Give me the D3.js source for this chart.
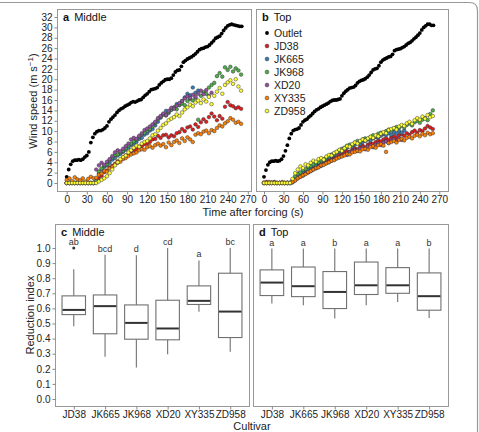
<!DOCTYPE html>
<meta charset="utf-8">
<script src="https://cdn.jsdelivr.net/npm/d3@7"></script>
<style>
body { margin: 0; background: #fff; }
svg { display: block; font-family: "Liberation Sans", Arial, sans-serif; }
.frame { fill: none; stroke: #999; stroke-width: 1.2px; }
.border { fill: none; stroke: #999; stroke-width: 1px; }
.axis text { font-size: 10px; fill: #222; }
.axis line { stroke: #888; }
.axis path { display: none; }
.title { font-size: 11px; fill: #111; }
.lab { font-size: 11px; fill: #222; }
.legend text { font-size: 10.5px; fill: #222; }
.box { fill: #fff; stroke: #707070; stroke-width: 1.1px; }
.whisker { stroke: #707070; stroke-width: 1.1px; }
.median { stroke: #333; stroke-width: 2px; }
.letter { font-size: 9px; fill: #333; text-anchor: middle; }
</style>
<svg width="479" height="432"></svg>
<script>

// ---- time series (outlet every 3 s, cultivars every 4 s, from t = 0) ----
var outletStep = 3, cultivarStep = 4;

var outletMid = [1.2,2.6,3.6,4.2,4.4,4.4,4.5,4.4,4.6,5.0,
  5.3,6.0,7.8,8.8,9.5,9.9,10.1,10.1,10.3,10.6,
  11.0,11.8,12.3,12.7,13.1,13.6,14.0,14.3,14.5,14.8,
  15.0,15.2,15.5,15.7,15.6,15.8,16.0,16.1,16.5,16.9,
  17.2,17.6,18.0,18.1,18.2,18.4,18.9,19.3,19.6,19.9,
  20.0,20.0,20.2,20.8,21.4,21.7,21.8,22.5,23.3,23.6,
  23.9,24.1,24.3,24.6,24.9,25.3,25.7,25.9,26.0,26.2,
  26.3,26.6,27.0,27.4,27.9,28.1,28.3,28.8,29.4,29.9,
  30.3,30.5,30.6,30.5,30.4,30.3,30.2,30.2];

var outletTop = [1.2,2.5,3.5,4.0,4.2,4.2,4.3,4.2,4.3,4.6,
  5.2,6.2,7.3,8.6,9.5,10.1,10.3,10.4,10.6,11.2,
  11.8,12.1,12.3,12.7,13.0,13.4,13.8,14.1,14.3,14.6,
  14.8,15.0,15.2,15.4,15.7,15.9,16.0,16.0,16.1,16.2,
  16.8,17.3,17.7,18.0,18.3,18.4,18.5,18.8,19.3,19.6,
  19.8,19.9,20.1,20.4,20.8,21.3,21.8,22.0,22.1,22.6,
  23.3,23.7,23.9,24.1,24.3,24.4,24.8,25.5,25.7,25.8,
  25.9,26.1,26.3,26.6,26.9,27.1,27.4,27.8,28.1,28.5,
  28.9,29.5,30.0,30.3,30.6,30.6,30.4,30.4];

// Middle
var midJD38 = [0,0,0,0,0,0,0,0,0,0,0,
  0.1,0.9,1.4,2.1,2.4,3.0,3.3,3.7,4.2,4.4,4.9,5.3,5.5,6.1,6.3,6.5,7.0,7.1,7.5,
  7.6,7.9,8.4,8.5,9.1,8.7,9.2,9.3,8.8,9.2,9.0,9.6,9.8,10.4,10.0,10.7,10.9,10.3,11.3,10.8,
  11.7,12.3,11.8,12.7,13.4,12.8,12.1,12.9,12.4,14.7,15.6,15.0,14.8,14.4,14.6,14.3];
var midJK665 = [0,0,0,0,0,0,0,0,0,0,0,
  0.3,1.8,2.6,3.1,3.4,3.9,4.5,4.8,5.3,5.6,6.0,6.4,6.8,7.3,7.6,7.9,8.5,8.7,9.3,
  9.6,10.1,10.4,11.1,11.8,12.6,13.2,13.9,13.5,14.1,14.6,15.2,15.0,15.8,16.5,17.2,16.9,18.4,17.4,17.8];
var midJK968 = [0,0,0,0,0,0,0,0,0,0,0,
  0.4,2.2,2.8,3.3,3.6,4.4,4.9,5.4,5.5,5.9,6.2,6.7,7.2,7.6,8.0,8.3,8.9,9.4,9.7,
  10.1,10.4,10.9,11.6,12.3,12.8,13.2,13.0,13.7,14.2,14.5,14.2,15.1,15.3,15.0,15.8,16.2,15.9,16.4,12.2,
  16.8,17.5,17.2,18.4,18.9,19.3,20.6,21.2,20.5,22.3,21.8,22.4,21.5,22.1,21.7,20.9];
var midXD20 = [0,0,0,0,0,0,0,0,0,0,0,
  2.6,3.4,3.9,3.5,4.1,4.6,5.2,5.9,6.3,6.1,6.6,7.1,7.6,8.4,8.7,8.5,9.1,9.6,10.2,
  10.5,10.9,11.3,11.8,12.5,12.9,13.4,13.1,13.9,14.5,14.3,14.9,15.4,15.8,16.3,16.7,16.4,17.0,16.6,17.2,
  17.8,17.1,17.9,16.8,17.4];
var midXY335 = [0.6,0.9,0.4,1.1,0.7,0.5,0.9,0.3,0.8,1.2,0.9,
  1.0,1.6,1.8,2.3,2.2,2.8,3.1,3.6,3.9,4.1,4.6,4.8,5.2,5.5,5.7,5.9,6.3,6.5,6.4,
  6.9,7.1,6.8,7.3,7.6,7.2,7.5,6.9,7.8,7.3,7.9,8.2,7.7,8.6,8.1,8.8,8.4,7.9,9.3,9.6,
  9.4,9.9,10.1,9.6,10.2,10.0,10.6,11.1,10.9,11.5,11.9,12.5,12.2,11.6,11.8,11.4];
var midZD958 = [0,0,0,0,0,0,0,0,0,0,0,
  0.0,0.3,0.6,0.9,1.3,1.9,2.6,3.4,4.0,4.6,5.0,5.3,5.9,6.3,6.8,7.2,7.0,7.6,7.9,
  8.1,8.6,9.2,9.4,10.1,10.6,11.2,11.5,12.1,12.4,12.7,13.2,12.9,13.6,14.2,14.6,15.1,14.8,15.5,15.9,
  15.4,16.1,15.7,16.6,15.2,16.8,17.6,18.3,17.2,18.9,19.4,19.8,19.1,20.0,18.6,17.8];

// Top
var topJD38 = [0,0.2,0,0.1,0.2,0,0,0.1,0,0,0,
  0.3,0.6,1.1,1.3,1.6,1.9,2.3,2.4,2.9,3.1,3.4,3.6,3.9,4.1,4.4,4.5,4.9,5.0,5.4,
  5.5,5.8,6.1,6.0,6.4,6.7,6.5,7.0,7.2,6.9,7.4,7.7,7.5,7.9,8.2,8.0,8.4,8.6,8.3,8.8,
  9.0,8.7,9.2,9.4,9.1,9.6,9.3,9.8,10.1,9.7,10.2,10.0,10.5,11.0,10.7,10.4];
var topJK665 = [0,0,0,0,0,0,0,0,0,0,0,
  0.4,1.0,1.4,1.7,2.1,2.4,2.6,3.0,3.3,3.5,3.9,4.1,4.4,4.7,4.9,5.2,5.4,5.8,6.0,
  6.3,6.5,6.8,7.1,7.0,7.4,7.7,7.5,7.9,8.1,8.4,8.2,8.6,8.9,8.7,9.1,9.4,9.2,9.6,9.3,
  9.8,9.5,10.0,9.7,10.1];
var topJK968 = [0,0,0,0,0,0,0,0,0,0,0,
  0.6,1.3,1.8,2.0,2.5,2.7,3.1,3.3,3.6,3.9,4.0,4.4,4.6,4.9,5.1,5.5,5.7,6.0,6.3,
  6.6,6.8,7.2,7.4,7.3,7.8,8.1,7.9,8.4,8.6,8.5,8.9,9.2,9.0,9.5,9.7,9.6,10.0,10.3,10.1,
  10.5,10.8,10.6,11.0,10.7,11.2,11.5,11.1,11.7,12.0,11.6,12.2,12.5,12.1,13.3,14.0];
var topXD20 = [0,0,0,0,0,0,0,0,0,0,0,
  0.1,0.5,0.9,1.2,1.4,1.8,2.0,2.3,2.6,2.8,3.1,3.3,3.6,3.8,4.0,4.3,4.5,4.8,5.0,
  5.2,5.5,5.4,5.9,6.1,6.3,6.2,6.6,6.8,6.5,7.0,7.2,6.9,7.4,7.6,7.3,7.8,8.0,7.7,8.2,
  8.4,8.1,8.6,8.3];
var topXY335 = [0.1,0,0.2,0,0.1,0,0,0.2,0,0.1,0,
  0.2,0.5,0.9,1.2,1.5,1.7,2.1,2.3,2.6,2.9,3.0,3.4,3.5,3.8,4.0,4.3,4.4,4.7,4.9,
  5.1,5.3,5.6,5.5,5.9,6.0,6.2,6.1,6.5,6.6,6.4,6.9,7.1,6.8,7.3,7.5,7.2,6.0,7.7,7.9,
  8.1,7.8,8.3,8.5,8.2,8.7,8.9,8.6,9.1,9.3,9.0,9.5,9.2,9.7,9.4,9.6];
var topZD958 = [0,0,0,0,0,0,0,0,0,0,0,
  0.8,1.9,2.6,3.2,2.9,3.6,3.4,3.9,4.3,4.1,4.6,4.8,4.5,5.1,5.4,5.3,5.8,6.0,6.4,
  6.2,6.7,7.1,7.0,7.5,7.8,7.6,8.1,8.4,8.2,8.6,8.9,8.7,9.2,9.0,9.5,9.8,9.6,10.2,10.4,
  10.6,10.3,10.9,11.2,11.0,11.5,11.8,11.4,12.1,12.5,12.2,12.8,12.4,13.1,12.7,12.9];

var cultivars = ["JD38", "JK665", "JK968", "XD20", "XY335", "ZD958"];
var colors = ["#E41A1C", "#377EB8", "#4DAF4A", "#984EA3", "#FF7F00", "#FFFF33"];

// ---- reduction index box stats ----
var midLow  = [0.482, 0.280, 0.209, 0.297, 0.577, 0.313];
var midQ1   = [0.559, 0.432, 0.396, 0.392, 0.626, 0.407];
var midMed  = [0.590, 0.615, 0.504, 0.467, 0.650, 0.579];
var midQ3   = [0.683, 0.689, 0.623, 0.654, 0.749, 0.833];
var midHigh = [0.859, 0.956, 0.952, 1.000, 0.918, 1.000];
var midOutliers = [[1.0], [], [], [], [], []];
var midLetters = ["ab", "bcd", "d", "cd", "a", "bc"];

var topLow  = [0.632, 0.621, 0.533, 0.621, 0.643, 0.537];
var topQ1   = [0.685, 0.678, 0.599, 0.692, 0.700, 0.588];
var topMed  = [0.771, 0.747, 0.709, 0.753, 0.753, 0.681];
var topQ3   = [0.855, 0.874, 0.844, 0.907, 0.870, 0.835];
var topHigh = [0.996, 0.996, 0.996, 0.996, 0.996, 0.996];
var topOutliers = [[], [], [], [], [], []];
var topLetters = ["a", "a", "b", "a", "a", "b"];

var speedTicks = d3.range(0, 33, 2);
var timeTicks = d3.range(0, 271, 30);
var indexTicks = d3.range(0, 11).map(function(d) { return d / 10; });

var svg = d3.select("svg");

// figure frame (top + right with rounded corner)
svg.append("path").attr("class", "frame")
    .attr("d", "M0,2.5H469.5Q477.5,2.5 477.5,10.5V432");

//------------------------------------------------------------------
function scatterPanel(opt) {
  var x = d3.scaleLinear().domain([0, 270]).range(opt.xr);
  var y = d3.scaleLinear().domain([0, 32]).range([183, 17]);
  var g = svg.append("g");

  g.append("rect").attr("class", "border")
      .attr("x", opt.left + 0.5).attr("y", 9.5)
      .attr("width", opt.right - opt.left).attr("height", 182);

  g.append("g").attr("class", "axis")
      .attr("transform", "translate(0," + 191.5 + ")")
      .call(d3.axisBottom(x).tickValues(timeTicks).tickSize(3).tickPadding(1));

  if (opt.yaxis) {
    g.append("g").attr("class", "axis")
        .attr("transform", "translate(" + (opt.left + 0.5) + ",0)")
        .call(d3.axisLeft(y).tickValues(speedTicks).tickSize(3).tickPadding(2));
  }

  // outlet
  g.append("g").selectAll("circle")
      .data(opt.outlet)
    .enter().append("circle")
      .attr("cx", function(d, i) { return x(i * outletStep); })
      .attr("cy", function(d) { return y(d); })
      .attr("r", 1.9)
      .attr("fill", "#000");

  opt.series.forEach(function(s, k) {
    g.append("g").selectAll("circle")
        .data(s)
      .enter().append("circle")
        .attr("cx", function(d, i) { return x(i * cultivarStep); })
        .attr("cy", function(d) { return y(d); })
        .attr("r", 1.8)
        .attr("fill", colors[k])
        .attr("stroke", "#333")
        .attr("stroke-width", 0.5);
  });

  var t = g.append("text").attr("class", "title")
      .attr("x", opt.left + 6).attr("y", 21);
  t.append("tspan").attr("font-weight", "bold").text(opt.letter);
  t.append("tspan").attr("dx", 5).text(opt.name);
  return g;
}

var gA = scatterPanel({left: 57, right: 251, xr: [66.7, 247.8], yaxis: true,
  outlet: outletMid, letter: "a", name: "Middle",
  series: [midJD38, midJK665, midJK968, midXD20, midXY335, midZD958]});

var gB = scatterPanel({left: 256, right: 448, xr: [264, 439.3], yaxis: false,
  outlet: outletTop, letter: "b", name: "Top",
  series: [topJD38, topJK665, topJK968, topXD20, topXY335, topZD958]});

// legend
var legNames = ["Outlet"].concat(cultivars);
var legColors = ["#000"].concat(colors);
var leg = gB.append("g").attr("class", "legend");
legNames.forEach(function(n, i) {
  var yy = 33 + i * 13;
  leg.append("circle").attr("cx", 267).attr("cy", yy).attr("r", 1.9)
      .attr("fill", legColors[i])
      .attr("stroke", i ? "#333" : "none").attr("stroke-width", 0.5);
  leg.append("text").attr("x", 274).attr("y", yy + 3.8).text(n);
});

svg.append("text").attr("class", "lab")
    .attr("transform", "translate(37,101) rotate(-90)")
    .attr("text-anchor", "middle")
    .call(function(t) {
      t.append("tspan").text("Wind speed (m s");
      t.append("tspan").attr("baseline-shift", "super").attr("font-size", "8px").text("\u22121");
      t.append("tspan").text(")");
    });

svg.append("text").attr("class", "lab")
    .attr("x", 253).attr("y", 215.5).attr("text-anchor", "middle")
    .text("Time after forcing (s)");

//------------------------------------------------------------------
function boxPanel(opt) {
  var x = d3.scalePoint().domain(cultivars).range([opt.left, opt.right]).padding(0.6);
  var y = d3.scaleLinear().domain([0, 1]).range([399, 248]);
  var bw = x.step() * 0.75;
  var g = svg.append("g");

  g.append("rect").attr("class", "border")
      .attr("x", opt.left + 0.5).attr("y", 224.5)
      .attr("width", opt.right - opt.left).attr("height", 182);

  g.append("g").attr("class", "axis")
      .attr("transform", "translate(0," + 406.5 + ")")
      .call(d3.axisBottom(x).tickSize(3).tickPadding(1.5));

  if (opt.yaxis) {
    g.append("g").attr("class", "axis")
        .attr("transform", "translate(" + (opt.left + 0.5) + ",0)")
        .call(d3.axisLeft(y).tickValues(indexTicks).tickFormat(d3.format(".1f"))
          .tickSize(3).tickPadding(2));
  }

  var b = g.selectAll(".bx")
      .data(cultivars)
    .enter().append("g").attr("class", "bx");

  b.append("line").attr("class", "whisker")
      .attr("x1", function(d) { return x(d); }).attr("x2", function(d) { return x(d); })
      .attr("y1", function(d, i) { return y(opt.high[i]); })
      .attr("y2", function(d, i) { return y(opt.q3[i]); });
  b.append("line").attr("class", "whisker")
      .attr("x1", function(d) { return x(d); }).attr("x2", function(d) { return x(d); })
      .attr("y1", function(d, i) { return y(opt.q1[i]); })
      .attr("y2", function(d, i) { return y(opt.low[i]); });
  b.append("rect").attr("class", "box")
      .attr("x", function(d) { return x(d) - bw / 2; })
      .attr("width", bw)
      .attr("y", function(d, i) { return y(opt.q3[i]); })
      .attr("height", function(d, i) { return y(opt.q1[i]) - y(opt.q3[i]); });
  b.append("line").attr("class", "median")
      .attr("x1", function(d) { return x(d) - bw / 2 + 0.5; })
      .attr("x2", function(d) { return x(d) + bw / 2 - 0.5; })
      .attr("y1", function(d, i) { return y(opt.med[i]); })
      .attr("y2", function(d, i) { return y(opt.med[i]); });
  b.each(function(d, i) {
    d3.select(this).selectAll("circle")
        .data(opt.outliers[i])
      .enter().append("circle")
        .attr("cx", x(d)).attr("cy", function(v) { return y(v); })
        .attr("r", 1.5).attr("fill", "#333");
  });
  b.append("text").attr("class", "letter")
      .attr("x", function(d) { return x(d); })
      .attr("y", function(d, i) {
        return y(d3.max([opt.high[i]].concat(opt.outliers[i]))) - 3;
      })
      .text(function(d, i) { return opt.letters[i]; });

  var t = g.append("text").attr("class", "title")
      .attr("x", opt.left + 6).attr("y", 236);
  t.append("tspan").attr("font-weight", "bold").text(opt.letter);
  t.append("tspan").attr("dx", 5).text(opt.name);
}

boxPanel({left: 55, right: 249, yaxis: true, letter: "c", name: "Middle",
  low: midLow, q1: midQ1, med: midMed, q3: midQ3, high: midHigh,
  outliers: midOutliers, letters: midLetters});

boxPanel({left: 253, right: 448, yaxis: false, letter: "d", name: "Top",
  low: topLow, q1: topQ1, med: topMed, q3: topQ3, high: topHigh,
  outliers: topOutliers, letters: topLetters});

svg.append("text").attr("class", "lab")
    .attr("transform", "translate(34,315) rotate(-90)")
    .attr("text-anchor", "middle")
    .text("Reduction index");

svg.append("text").attr("class", "lab")
    .attr("x", 252).attr("y", 430).attr("text-anchor", "middle")
    .text("Cultivar");

</script>
